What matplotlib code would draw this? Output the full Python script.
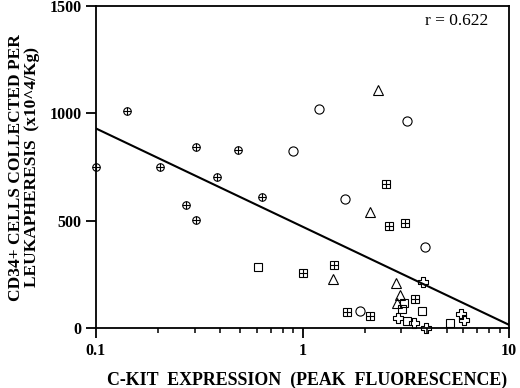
import numpy as np
import matplotlib
matplotlib.use('Agg')
import matplotlib.pyplot as plt
from matplotlib.path import Path
from matplotlib.ticker import FixedLocator, LogLocator, NullFormatter

plt.rcParams['font.family'] = ['Liberation Serif', 'DejaVu Serif']

# circle with plus
oplus_x = [0.10, 0.141, 0.203, 0.306, 0.485, 0.384, 0.274, 0.304, 0.639]
oplus_y = [752, 1012, 752, 842, 829, 702, 574, 504, 612]
# open circles
circ_x = [0.903, 1.206, 3.19, 1.61, 3.92, 1.905]
circ_y = [826, 1020, 963, 602, 377, 79]
# triangles
tri_x = [2.33, 2.11, 1.40, 2.82, 2.96, 2.87]
tri_y = [1109, 540, 229, 212, 155, 116]
# squares
sq_x = [0.607, 3.11, 3.02, 3.22, 3.80, 5.20]
sq_y = [287, 116, 88, 34, 82, 26]
# square with plus
sqp_x = [2.53, 2.61, 3.14, 1.0, 1.415, 1.64, 2.12, 3.51]
sqp_y = [673, 474, 490, 256, 293, 74, 59, 136]
# outlined crosses
cross_x = [3.82, 2.91, 3.48, 3.96, 5.86, 6.08]
cross_y = [214, 50, 23, 0, 65, 39]

# regression y = a + b*log10(x)
fit_a = 473
fit_b = -457
r_text = 'r = 0.622'

t = 1 / 3
cross_path = Path([(-t, 1), (t, 1), (t, t), (1, t), (1, -t), (t, -t), (t, -1),
                   (-t, -1), (-t, -t), (-1, -t), (-1, t), (-t, t), (-t, 1)],
                  [Path.MOVETO] + [Path.LINETO] * 11 + [Path.CLOSEPOLY])

fig = plt.figure(figsize=(5.2, 3.88), dpi=100)
ax = fig.add_axes([0.1846, 0.1539, 0.7944, 0.8306])

mk = dict(linestyle='none', color='black', markerfacecolor='none',
          markeredgewidth=0.8, clip_on=False)
ax.plot(oplus_x, oplus_y, marker='o', markersize=5.4, **mk)
ax.plot(oplus_x, oplus_y, marker='+', markersize=5.4, **mk)
ax.plot(circ_x, circ_y, marker='o', markersize=6.6, **mk)
ax.plot(tri_x, tri_y, marker='^', markersize=6.5, **mk)
ax.plot(sq_x, sq_y, marker='s', markersize=6.0, **mk)
ax.plot(sqp_x, sqp_y, marker='s', markersize=5.2, **mk)
ax.plot(sqp_x, sqp_y, marker='+', markersize=5.2, **mk)
ax.plot(cross_x, cross_y, marker=cross_path, markersize=6.5, **mk)

xs = np.array([0.1, 10])
ax.plot(xs, fit_a + fit_b * np.log10(xs), color='black', lw=1.5)

ax.set_xscale('log')
ax.set_xlim(0.1, 10)
ax.set_ylim(0, 1500)
ax.xaxis.set_major_locator(FixedLocator([0.1, 1, 10]))
ax.xaxis.set_minor_locator(LogLocator(base=10, subs=np.arange(2, 10)))
ax.xaxis.set_minor_formatter(NullFormatter())
ax.set_xticklabels(['0.1', '1', '10'])
ax.set_yticks([0, 500, 1000, 1500])

for s in ax.spines.values():
    s.set_linewidth(1.3)
ax.tick_params(axis='both', which='major', length=7, width=1.3,
               labelsize=11.5, direction='out')
ax.tick_params(axis='x', which='minor', length=3.5, width=1.1, direction='out')
for lab in ax.get_xticklabels() + ax.get_yticklabels():
    lab.set_fontweight('bold')

# nudge label right a bit, like the original
ax.set_xlabel('C-KIT  EXPRESSION  (PEAK  FLUORESCENCE)', fontsize=12.9,
              fontweight='bold', labelpad=6)
ax.xaxis.set_label_coords(0.51, -0.135)
ax.set_ylabel('CD34+ CELLS COLLECTED PER\nLEUKAPHERESIS  (x10^4/Kg)',
              fontsize=12.5, fontweight='bold', labelpad=7, linespacing=0.95)
ax.text(0.95, 0.955, r_text, transform=ax.transAxes, ha='right', va='center',
        fontsize=12.5)

fig.savefig('out.png', dpi=100)
